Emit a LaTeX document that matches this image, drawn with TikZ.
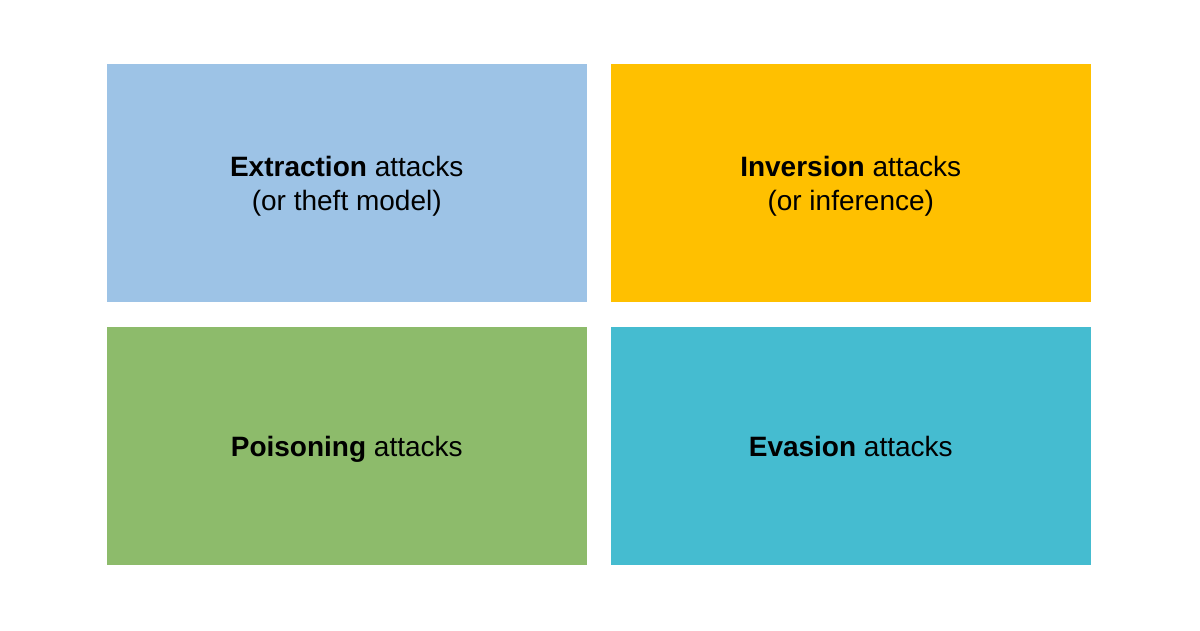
\documentclass[tikz,border=0pt]{standalone}
\usepackage{fontspec}
\setmainfont{Liberation Sans}
\definecolor{extrblue}{RGB}{157,195,230}
\definecolor{invorange}{RGB}{255,192,0}
\definecolor{poisgreen}{RGB}{141,187,107}
\definecolor{evasteal}{RGB}{69,188,208}
\tikzset{
	attack/.style={rectangle,minimum width=480.5pt,minimum height=238pt,inner sep=0pt,
		align=center,text height=20pt,text depth=0pt,font=\fontsize{28}{34}\selectfont},
	twoline/.style={text height=54pt}
}
\begin{document}
\begin{tikzpicture}[x=1pt,y=-1pt]
				\useasboundingbox[fill=white] (0,0) rectangle (1200,630);
				% top row
				\node[attack,twoline,fill=extrblue] (extr) at (346.75,183)
					{\textbf{Extraction} attacks\\(or theft model)};
				\node[attack,twoline,fill=invorange] (inv) at (850.75,183)
					{\textbf{Inversion} attacks\\(or inference)};
				% bottom row
				\node[attack,fill=poisgreen] (pois) at (346.75,446)
					{\textbf{Poisoning} attacks};
				\node[attack,fill=evasteal] (evas) at (850.75,446)
					{\textbf{Evasion} attacks};
			\end{tikzpicture}
\end{document}
